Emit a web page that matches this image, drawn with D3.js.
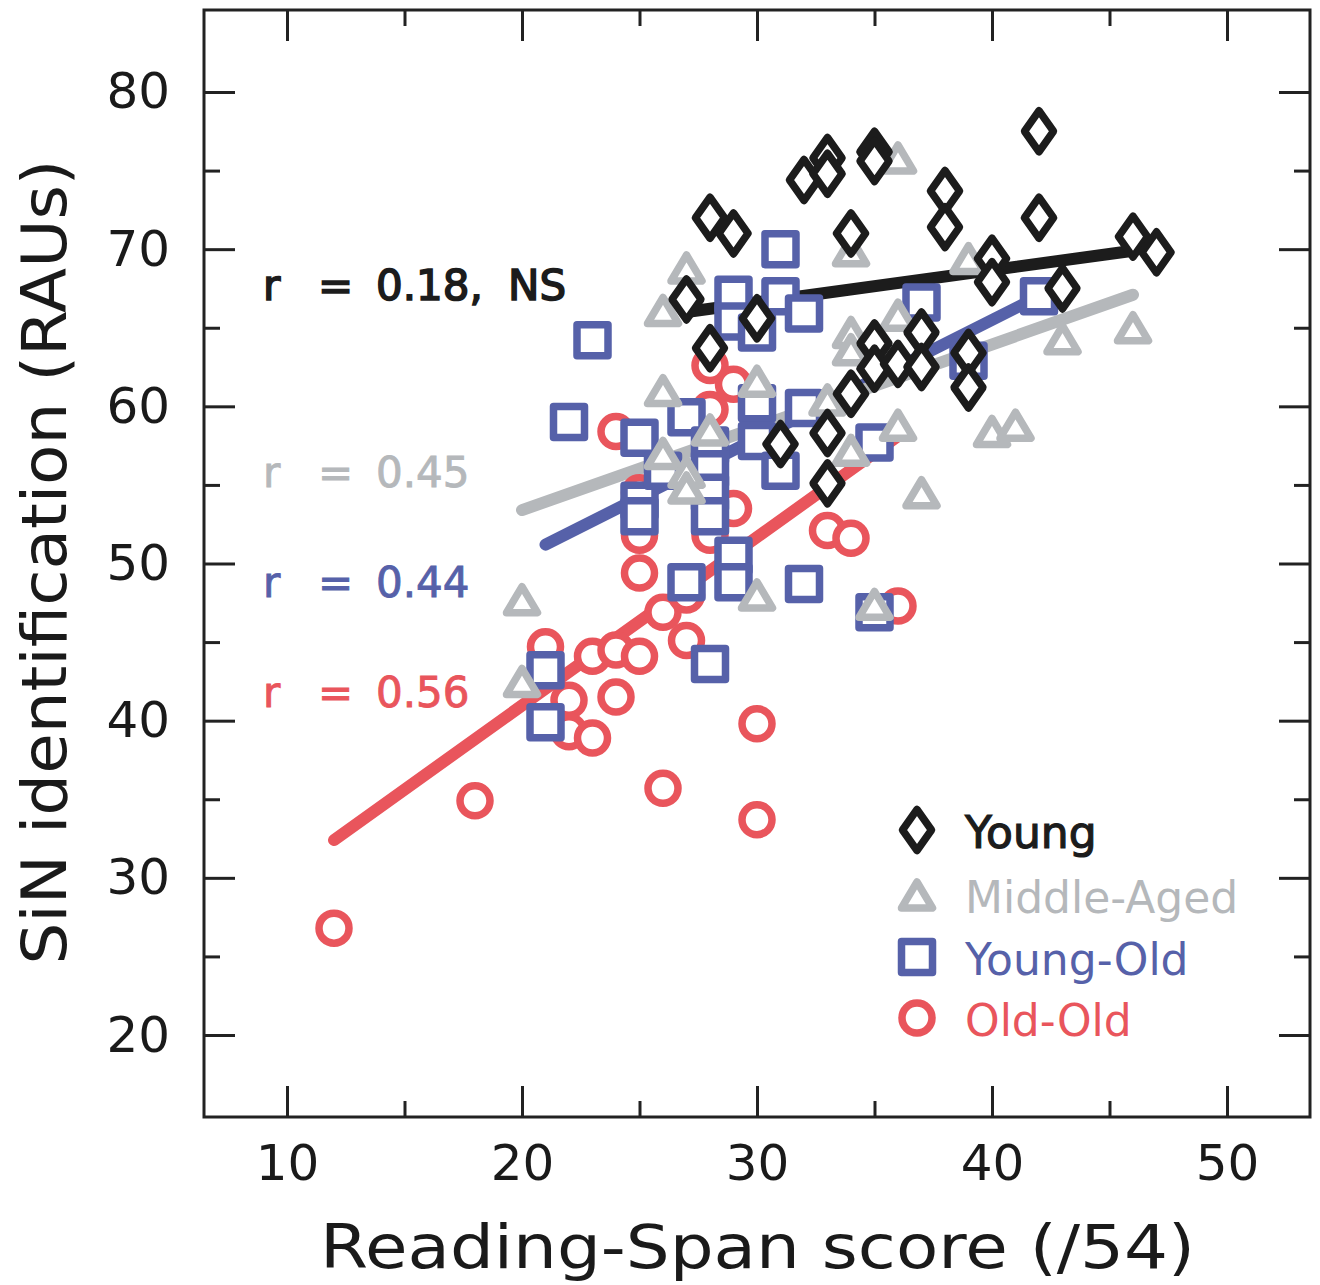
<!DOCTYPE html>
<html><head><meta charset="utf-8">
<script src="https://cdn.jsdelivr.net/npm/d3@7"></script>
<style>body{margin:0;background:#fff}svg{display:block}text{font-family:"DejaVu Sans",sans-serif}</style>
</head><body><svg id="c" width="1320" height="1285"></svg>
<script>
// ---- data ----
const groups = ["Young", "Middle-Aged", "Young-Old", "Old-Old"];
const colors = ["#1c1c1c", "#b5b8bb", "#5661a9", "#e9555c"];
const corrLabels = ["r = 0.18, NS", "r = 0.45", "r = 0.44", "r = 0.56"];

const youngX = [27,28,28,29,30,31,32,33,33,33,33,34,34,35,35,35,35,36,37,37,38,38,39,39,40,40,42,42,43,46,47];
const youngY = [66.8,72.0,63.7,71.0,65.6,57.6,74.4,75.8,74.8,58.3,55.1,71.0,60.8,76.2,75.6,64.0,62.4,62.7,64.7,62.5,73.7,71.4,63.4,61.2,69.4,67.9,77.5,72.0,67.5,70.8,69.8];

const middleX = [20,20,26,26,26,27,27,27,28,30,30,33,34,34,34,34,35,36,36,36,37,39,40,41,43,46];
const middleY = [47.7,42.5,66.1,61.0,57.0,68.8,55.8,54.8,58.5,61.6,48.0,60.4,69.9,64.7,63.6,57.2,47.4,75.8,65.8,58.8,54.5,69.4,58.4,58.8,64.3,65.0];

const youngOldX = [21,21,22,23,25,25,25,26,27,27,28,28,28,28,28,29,29,29,29,30,30,30,31,31,31,32,32,32,35,35,37,39,42];
const youngOldY = [43.2,39.9,59.0,64.2,58.0,54.0,53.0,55.9,59.3,48.8,57.5,56.0,54.5,53.0,43.6,67.1,65.4,50.5,48.8,64.7,60.2,57.8,70.0,67.0,55.9,65.9,59.9,48.7,57.7,46.9,66.6,62.9,67.0];

const oldOldX = [12,18,21,22,22,23,23,24,24,24,25,25,25,25,26,26,27,27,28,28,28,29,29,30,30,33,34,36];
const oldOldY = [26.8,34.9,44.7,41.3,39.3,44.1,38.9,44.5,41.5,58.4,44.1,49.4,51.8,54.5,46.9,35.7,45.1,48.0,62.6,59.8,51.8,61.4,53.5,39.8,33.7,52.1,51.6,47.3];

// regression line end points [x0, y0, x1, y1]
const youngLine = [27, 66.0, 46, 69.9];
const middleLine = [20, 53.4, 46, 67.1];
const youngOldLine = [21, 51.2, 42, 67.0];
const oldOldLine = [12, 32.4, 36, 58.1];

const xMajorTicks = [10, 20, 30, 40, 50];
const xMinorTicks = [15, 25, 35, 45];
const yMajorTicks = [20, 30, 40, 50, 60, 70, 80];
const yMinorTicks = [25, 35, 45, 55, 65, 75];
const xTitle = "Reading-Span score (/54)";
const yTitle = "SiN identification (RAUs)";

// ---- layout ----
const L = 204, R = 1310, T = 10, B = 1117;
const x = d3.scaleLinear().domain([6.468, 53.532]).range([L, R]);
const y = d3.scaleLinear().domain([14.783, 85.217]).range([B, T]);
const svg = d3.select("#c");
const ink = "#222";

// regression lines (under markers)
const lines = [oldOldLine, youngOldLine, middleLine, youngLine];
const lineCols = [colors[3], colors[2], colors[1], colors[0]];
svg.append("g").selectAll("line").data(lines).join("line")
  .attr("x1", d => x(d[0])).attr("y1", d => y(d[1]))
  .attr("x2", d => x(d[2])).attr("y2", d => y(d[3]))
  .attr("stroke", (d, i) => lineCols[i]).attr("stroke-width", 12).attr("stroke-linecap", "round");

// marker shapes
const shapes = {
  diamond: "M0,-20.5L14.5,0L0,20.5L-14.5,0Z",
  triangle: "M0,-13L15.5,13L-15.5,13Z",
  square: "M-15.5,-15.5H15.5V15.5H-15.5Z",
  circle: "M15,0A15,15,0,1,1,-15,0A15,15,0,1,1,15,0Z"
};
const markStroke = 7.5;
const groupShapes = ["diamond", "triangle", "square", "circle"];
const seriesX = [youngX, middleX, youngOldX, oldOldX];
const seriesY = [youngY, middleY, youngOldY, oldOldY];

// draw order: Old-Old, Young-Old, Middle-Aged, Young
[3, 2, 1, 0].forEach(gi => {
  const pts = seriesX[gi].map((v, i) => [v, seriesY[gi][i]]);
  svg.append("g").selectAll("path").data(pts).join("path")
    .attr("d", shapes[groupShapes[gi]])
    .attr("transform", d => `translate(${x(d[0])},${y(d[1])})`)
    .attr("fill", "#fff").attr("stroke", colors[gi]).attr("stroke-width", markStroke)
    .attr("stroke-linejoin", "round");
});

// axes
function styleAxis(g) {
  g.select(".domain").remove();
  g.selectAll(".tick line").attr("stroke", ink).attr("stroke-width", 3);
  g.selectAll(".tick text").attr("fill", "#1a1a1a").style("font-size", "50px")
    .style("font-family", "'DejaVu Sans',sans-serif");
}
const big = 31, small = 16;
svg.append("g").attr("transform", `translate(0,${B})`)
  .call(d3.axisBottom(x).tickValues(xMajorTicks).tickSize(-big).tickPadding(27).tickFormat(d3.format("d")))
  .call(styleAxis);
svg.append("g").attr("transform", `translate(0,${B})`)
  .call(d3.axisBottom(x).tickValues(xMinorTicks).tickSize(-small).tickFormat(""))
  .call(styleAxis);
svg.append("g").attr("transform", `translate(0,${T})`)
  .call(d3.axisTop(x).tickValues(xMajorTicks).tickSize(-big).tickFormat(""))
  .call(styleAxis);
svg.append("g").attr("transform", `translate(0,${T})`)
  .call(d3.axisTop(x).tickValues(xMinorTicks).tickSize(-small).tickFormat(""))
  .call(styleAxis);
svg.append("g").attr("transform", `translate(${L},0)`)
  .call(d3.axisLeft(y).tickValues(yMajorTicks).tickSize(-big).tickPadding(34).tickFormat(d3.format("d")))
  .call(styleAxis);
svg.append("g").attr("transform", `translate(${L},0)`)
  .call(d3.axisLeft(y).tickValues(yMinorTicks).tickSize(-small).tickFormat(""))
  .call(styleAxis);
svg.append("g").attr("transform", `translate(${R},0)`)
  .call(d3.axisRight(y).tickValues(yMajorTicks).tickSize(-big).tickFormat(""))
  .call(styleAxis);
svg.append("g").attr("transform", `translate(${R},0)`)
  .call(d3.axisRight(y).tickValues(yMinorTicks).tickSize(-small).tickFormat(""))
  .call(styleAxis);

// frame
svg.append("rect").attr("x", L).attr("y", T).attr("width", R - L).attr("height", B - T)
  .attr("fill", "none").attr("stroke", ink).attr("stroke-width", 3);

// axis titles
svg.append("text").attr("x", (320 + 1195) / 2).attr("y", 1268).attr("text-anchor", "middle")
  .attr("textLength", 875).attr("lengthAdjust", "spacingAndGlyphs")
  .style("font-size", "60px").attr("fill", "#1a1a1a").text(xTitle);
svg.append("text").attr("transform", "translate(66,562) rotate(-90)").attr("text-anchor", "middle")
  .attr("textLength", 805).attr("lengthAdjust", "spacingAndGlyphs")
  .style("font-size", "62px").attr("fill", "#1a1a1a").text(yTitle);

// correlation labels
const corrBaselines = [300, 487, 597, 707];
const partOffsets = [0, 55, 113, 245];
corrLabels.forEach((lab, i) => {
  const t = svg.append("text").attr("y", corrBaselines[i]).attr("fill", colors[i])
    .style("font-size", "42px")
    .attr("stroke", colors[i]).attr("stroke-width", i === 0 ? 1.6 : 0.9);
  lab.split(" ").forEach((p, j) => {
    t.append("tspan").attr("x", 263 + partOffsets[j]).text(p);
  });
});

// legend
const legRowY = [830, 895, 957, 1018];
groups.forEach((g, i) => {
  svg.append("path").attr("d", shapes[groupShapes[i]])
    .attr("transform", `translate(917,${legRowY[i]})`)
    .attr("fill", "#fff").attr("stroke", colors[i]).attr("stroke-width", markStroke).attr("stroke-linejoin", "round");
  const t = svg.append("text").attr("x", 965).attr("y", legRowY[i] + 18)
    .attr("fill", colors[i]).style("font-size", "44px").text(g);
  if (i === 0) t.attr("stroke", colors[i]).attr("stroke-width", 1.2);
});
</script></body></html>
